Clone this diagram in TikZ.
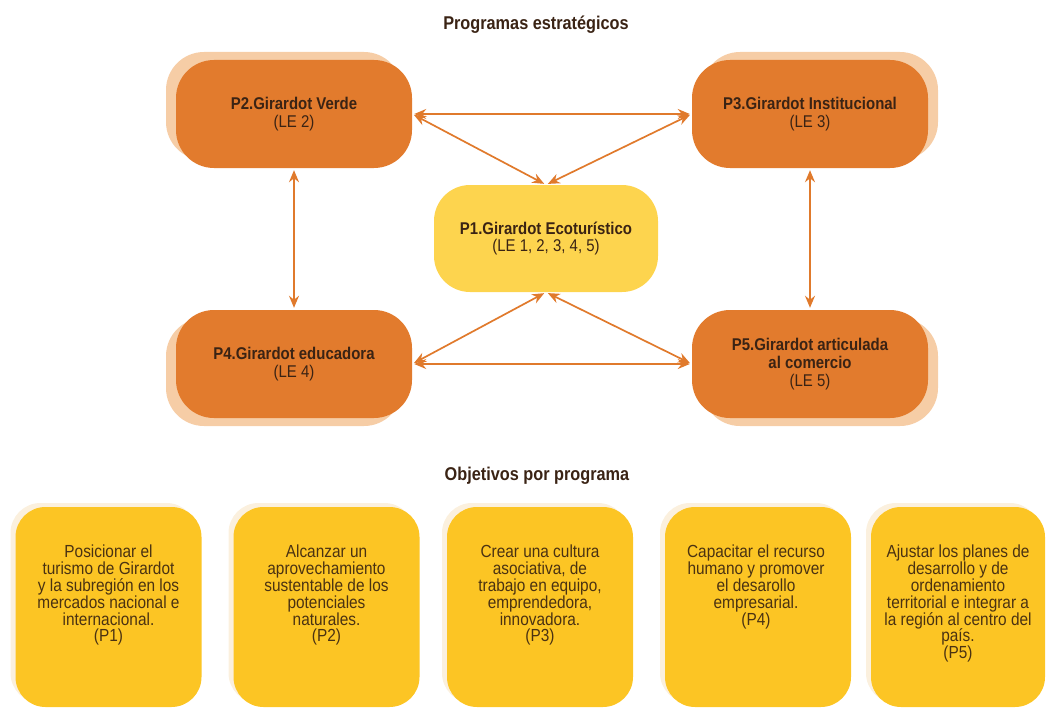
\documentclass[tikz,border=0pt]{standalone}
\usepackage{fontspec}
\setmainfont{Liberation Sans}[FakeStretch=0.88]
\usetikzlibrary{arrows.meta,shadows}
\definecolor{orangebox}{HTML}{E27B2D}
\definecolor{peach}{HTML}{F6CDA6}
\definecolor{yellowone}{HTML}{FDD44E}
\definecolor{yellowobj}{HTML}{FCC524}
\definecolor{cream}{HTML}{FBF0DE}
\definecolor{txtdark}{HTML}{3A2314}
\definecolor{txtobj}{HTML}{4A3212}
\definecolor{arrowc}{HTML}{E07A2C}
\newcommand{\myobjfont}{\fontsize{17.5}{16.8}\selectfont\lineskiplimit -20pt\lineskip 0pt\relax}
\begin{document}
\begin{tikzpicture}[x=1pt,y=-1pt,
  progbox/.style={rounded corners=38pt, fill=orangebox, minimum width=236pt, minimum height=108pt,
    align=center, text=txtdark, inner sep=0pt, font=\fontsize{17}{17.8}\selectfont},
  centralbox/.style={rounded corners=36pt, fill=yellowone, minimum width=224pt, minimum height=107pt,
    align=center, text=txtdark, inner sep=0pt, font=\fontsize{17}{17.8}\selectfont},
  objbox/.style={rounded corners=30pt, fill=yellowobj, minimum width=186pt, minimum height=200pt, inner sep=0pt,
    drop shadow={shadow xshift=-5pt, shadow yshift=4pt, fill=cream, opacity=1}},
  objtext/.style={anchor=north, align=center, text=txtobj, inner sep=0pt, font=\myobjfont},
  heading/.style={text=txtdark, inner sep=0pt, font=\bfseries\fontsize{18.5}{20}\selectfont},
  conn/.style={draw=arrowc, line width=1.7pt, {Stealth[length=12pt,width=10pt]}-{Stealth[length=12pt,width=10pt]}, shorten <=2pt, shorten >=2pt}
]
\useasboundingbox (0,0) rectangle (1047,709);

\node[heading] (h1) at (536,25) {Programas estratégicos};
\node[heading] (h2) at (537,476) {Objetivos por programa};

\node[progbox, drop shadow={shadow xshift=-10pt, shadow yshift=8pt, fill=peach, opacity=1}] (P2) at (294,114)
  {\textbf{P2.Girardot Verde}\\(LE 2)};
\node[progbox, drop shadow={shadow xshift=10pt, shadow yshift=8pt, fill=peach, opacity=1}] (P3) at (810,114)
  {\textbf{P3.Girardot Institucional}\\(LE 3)};
\node[progbox, drop shadow={shadow xshift=-10pt, shadow yshift=-8pt, fill=peach, opacity=1}] (P4) at (294,364)
  {\textbf{P4.Girardot educadora}\\(LE 4)};
\node[progbox, drop shadow={shadow xshift=10pt, shadow yshift=-8pt, fill=peach, opacity=1}] (P5) at (810,364)
  {\textbf{P5.Girardot articulada}\\\textbf{al comercio}\\(LE 5)};
\node[centralbox] (P1) at (546,238.5)
  {\textbf{P1.Girardot Ecoturístico}\\(LE 1, 2, 3, 4, 5)};

\draw[conn] (P2.east) -- (P3.west);
\draw[conn] (P4.east) -- (P5.west);
\draw[conn] (P2.east) -- (P1.north);
\draw[conn] (P3.west) -- (P1.north);
\draw[conn] (P4.east) -- (P1.south);
\draw[conn] (P5.west) -- (P1.south);
\draw[conn] (P2.south) -- (P4.north);
\draw[conn] (P3.south) -- (P5.north);

\node[objbox] (B1) at (108.5,607) {};
\node[objbox] (B2) at (326.5,607) {};
\node[objbox] (B3) at (540,607) {};
\node[objbox] (B4) at (758,607) {};
\node[objbox, minimum width=174pt] (B5) at (958,607) {};

\node[objtext] (T1) at (108.5,545) {Posicionar el\\turismo de Girardot\\y la subregión en los\\mercados nacional e\\internacional.\\(P1)};
\node[objtext] (T2) at (326.5,545) {Alcanzar un\\aprovechamiento\\sustentable de los\\potenciales\\naturales.\\(P2)};
\node[objtext] (T3) at (540,545) {Crear una cultura\\asociativa, de\\trabajo en equipo,\\emprendedora,\\innovadora.\\(P3)};
\node[objtext] (T4) at (756,545) {Capacitar el recurso\\humano y promover\\el desarollo\\empresarial.\\(P4)};
\node[objtext] (T5) at (958,545) {Ajustar los planes de\\desarrollo y de\\ordenamiento\\territorial e integrar a\\la región al centro del\\país.\\(P5)};
\end{tikzpicture}
\end{document}
